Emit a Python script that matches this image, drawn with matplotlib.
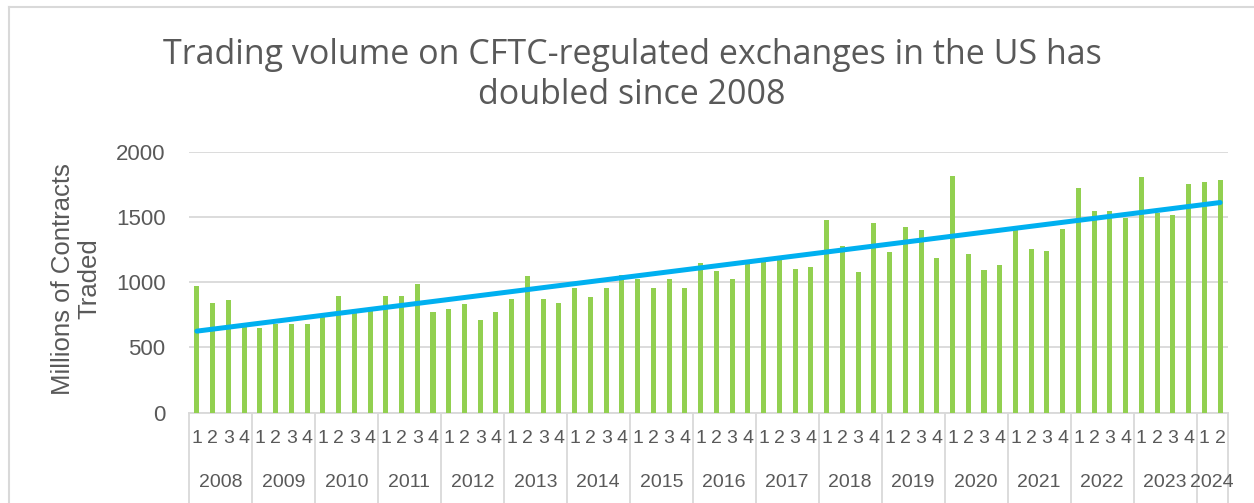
import numpy as np
import matplotlib.pyplot as plt
from matplotlib.lines import Line2D
import matplotlib.transforms as mtransforms

# quarterly volume, millions of contracts, 2008 Q1 .. 2024 Q2
years = [str(y) for y in range(2008, 2025)]
quarters_per_year = [4] * 16 + [2]
volume = [
    969, 837, 862, 653,      # 2008
    650, 681, 676, 681,      # 2009
    730, 898, 763, 776,      # 2010
    893, 895, 985, 768,      # 2011
    798, 832, 714, 768,      # 2012
    870, 1046, 870, 837,     # 2013
    954, 885, 957, 1059,     # 2014
    1023, 954, 1026, 954,    # 2015
    1150, 1084, 1026, 1138,  # 2016
    1156, 1171, 1102, 1115,  # 2017
    1480, 1278, 1077, 1457,  # 2018
    1235, 1421, 1401, 1186,  # 2019
    1811, 1214, 1094, 1135,  # 2020
    1398, 1258, 1242, 1411,  # 2021
    1724, 1548, 1548, 1492,  # 2022
    1804, 1533, 1518, 1750,  # 2023
    1765, 1786,              # 2024
]

quarter_labels = []
for n in quarters_per_year:
    quarter_labels += [str(q + 1) for q in range(n)]

x = np.arange(len(volume))
grey = "#595959"
grid = "#D9D9D9"

fig = plt.figure(figsize=(12.54, 5.03), dpi=100)
ax = fig.add_axes([189 / 1254, 1 - 412.7 / 503, (1228 - 189) / 1254, 261 / 503])

ax.bar(x, volume, width=0.32, color="#92D050", zorder=2)

# linear trendline like Excel's
slope, icept = np.polyfit(x, volume, 1)
ax.plot([x[0], x[-1]], [icept, icept + slope * x[-1]], color="#00B0F0",
        lw=3.6, solid_capstyle="round", zorder=3)

ax.set_xlim(-0.5, len(volume) - 0.5)
ax.set_ylim(0, 2000)
ax.set_yticks([0, 500, 1000, 1500, 2000])
ax.yaxis.grid(True, color=grid, lw=1.3)
ax.set_axisbelow(True)
for s in ax.spines.values():
    s.set_visible(False)
ax.tick_params(axis="y", length=0, pad=17, labelsize=16, labelcolor=grey)
for t in ax.get_yticklabels():
    t.set_fontfamily("Liberation Sans")
ax.set_xticks([])

# two-level category axis
trans = mtransforms.blended_transform_factory(ax.transData, ax.transAxes)
ax.plot([-0.5, len(volume) - 0.5], [0, 0], color=grid, lw=1.3,
        transform=trans, clip_on=False, zorder=1)
for i, q in zip(x, quarter_labels):
    ax.text(i, -0.097, q, transform=trans, ha="center", va="center",
            fontsize=14, color=grey, family="Liberation Sans")
start = 0
bounds = [-0.5]
for yr, n in zip(years, quarters_per_year):
    ax.text(start + (n - 1) / 2, -0.266, yr, transform=trans, ha="center",
            va="center", fontsize=14, color=grey, family="Liberation Sans")
    start += n
    bounds.append(start - 0.5)
for b in bounds:
    ax.plot([b, b], [0, -0.36], color=grid, lw=1.3, transform=trans,
            clip_on=False)

fig.text(76 / 1254, 1 - 279 / 503, "Millions of Contracts\nTraded",
         rotation=90, ha="center", va="center", fontsize=18.5, color=grey,
         family="Liberation Sans", linespacing=1.15)

fig.text(0.504, 1 - 75 / 503,
         "Trading volume on CFTC-regulated exchanges in the US has\ndoubled since 2008",
         ha="center", va="center", fontsize=24.5, color=grey,
         family="Open Sans", linespacing=1.25)

# chart area frame (left and top edges visible)
fig.add_artist(Line2D([9 / 1254, 9 / 1254], [0, 1 - 7 / 503], color=grid, lw=1.5))
fig.add_artist(Line2D([9 / 1254, 1], [1 - 7 / 503, 1 - 7 / 503], color=grid, lw=1.5))

fig.savefig("out.png", dpi=100)
